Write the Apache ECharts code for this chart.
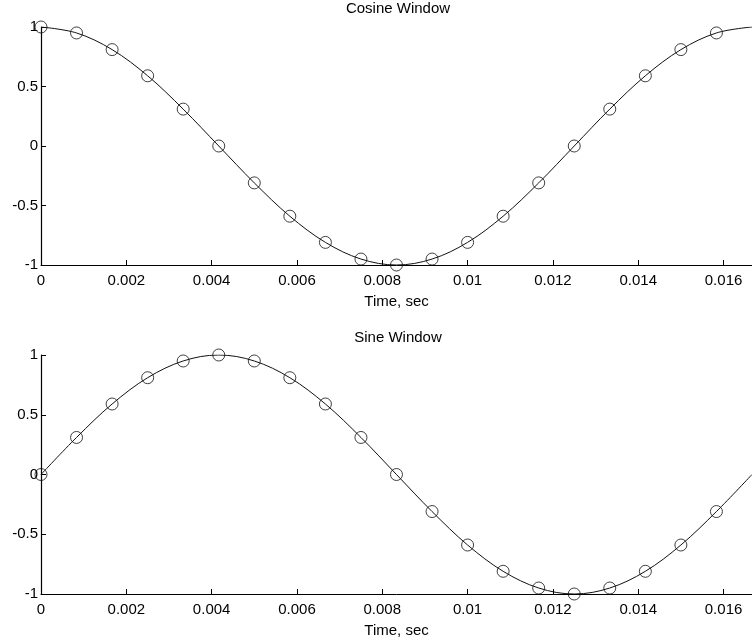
<!DOCTYPE html>
<html>
<head>
<meta charset="utf-8">
<script src="https://cdn.jsdelivr.net/npm/echarts@6/dist/echarts.min.js"></script>
<style>
  html, body { margin: 0; padding: 0; background: #fff; }
  #chart { width: 752px; height: 644px; }
</style>
</head>
<body>
<div id="chart"></div>
<script>
// Sample instants (s), 20 samples per 60 Hz period
const sampleTimes = [0, 0.000833, 0.001667, 0.0025, 0.003333, 0.004167, 0.005, 0.005833, 0.006667, 0.0075,
  0.008333, 0.009167, 0.01, 0.010833, 0.011667, 0.0125, 0.013333, 0.014167, 0.015, 0.015833];
const cosineSamples = [1, 0.95, 0.81, 0.59, 0.31, 0, -0.31, -0.59, -0.81, -0.95,
  -1, -0.95, -0.81, -0.59, -0.31, 0, 0.31, 0.59, 0.81, 0.95];
const sineSamples = [0, 0.31, 0.59, 0.81, 0.95, 1, 0.95, 0.81, 0.59, 0.31,
  0, -0.31, -0.59, -0.81, -0.95, -1, -0.95, -0.81, -0.59, -0.31];
// End of the period, where each trace closes
const periodEnd = 0.016667;
const cosineEnd = 1;
const sineEnd = 0;

const xTicks = [0, 0.002, 0.004, 0.006, 0.008, 0.01, 0.012, 0.014, 0.016];
const yTicks = [-1, -0.5, 0, 0.5, 1];

const titles = ['Cosine Window', 'Sine Window'];
const xName = 'Time, sec';

const font = 'Liberation Sans, Arial, Helvetica, sans-serif';
const fs = 15;

function pairs(xs, ys) { return xs.map((x, i) => [x, ys[i]]); }

const cosLine = pairs(sampleTimes, cosineSamples).concat([[periodEnd, cosineEnd]]);
const sinLine = pairs(sampleTimes, sineSamples).concat([[periodEnd, sineEnd]]);

const grids = [
  { left: 41, right: -6, top: 27, height: 238 },
  { left: 41, right: -6, top: 355, height: 239 }
];

function xAxis(idx) {
  return {
    type: 'value', gridIndex: idx, min: 0, max: periodEnd, interval: 0.002,
    name: xName, nameLocation: 'middle', nameGap: 29,
    nameTextStyle: { color: '#000', fontSize: fs, fontFamily: font },
    axisLine: { onZero: false, lineStyle: { color: '#000', width: 1 } },
    axisTick: { inside: true, length: 5, lineStyle: { color: '#000' } },
    axisLabel: {
      color: '#000', fontSize: fs, fontFamily: font, margin: 8, showMaxLabel: false,
      formatter: v => { const t = xTicks.find(k => Math.abs(k - v) < 1e-9); return t === undefined ? '' : String(t); }
    },
    splitLine: { show: false }
  };
}
function yAxis(idx) {
  return {
    type: 'value', gridIndex: idx, min: yTicks[0], max: yTicks[yTicks.length - 1], interval: 0.5,
    axisLine: { show: true, onZero: false, lineStyle: { color: '#000', width: 1.2 } },
    axisTick: { show: true, inside: true, length: 5, lineStyle: { color: '#000' } },
    axisLabel: { color: '#000', fontSize: fs, fontFamily: font, margin: 3 },
    splitLine: { show: false }
  };
}

function lineSeries(idx, data) {
  return {
    type: 'line', xAxisIndex: idx, yAxisIndex: idx, data: data, smooth: 0.35,
    showSymbol: false, symbol: 'none',
    lineStyle: { color: '#111', width: 1 }, animation: false, silent: true
  };
}
function markerSeries(idx, data) {
  return {
    type: 'scatter', xAxisIndex: idx, yAxisIndex: idx, data: data,
    symbol: 'circle', symbolSize: 12,
    itemStyle: { color: 'rgba(0,0,0,0)', borderColor: '#111', borderWidth: 1 },
    animation: false, silent: true
  };
}

const chart = echarts.init(document.getElementById('chart'), null, { renderer: 'canvas' });
chart.setOption({
  backgroundColor: '#fff',
  animation: false,
  title: [
    { text: titles[0], left: 398, top: 1, padding: 0, textAlign: 'center',
      textStyle: { color: '#000', fontSize: fs, fontWeight: 'normal', fontFamily: font } },
    { text: titles[1], left: 398, top: 330, padding: 0, textAlign: 'center',
      textStyle: { color: '#000', fontSize: fs, fontWeight: 'normal', fontFamily: font } }
  ],
  grid: grids,
  xAxis: [xAxis(0), xAxis(1)],
  yAxis: [yAxis(0), yAxis(1)],
  series: [
    lineSeries(0, cosLine),
    markerSeries(0, pairs(sampleTimes, cosineSamples)),
    lineSeries(1, sinLine),
    markerSeries(1, pairs(sampleTimes, sineSamples))
  ]
});
</script>
</body>
</html>
